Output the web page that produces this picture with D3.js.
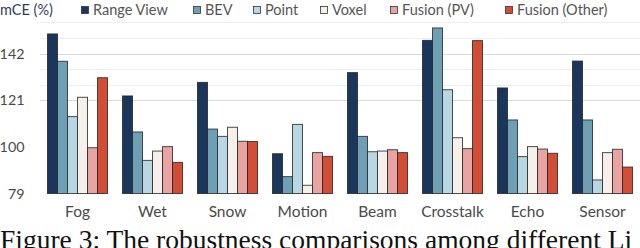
<!DOCTYPE html>
<html>
<head>
<meta charset="utf-8">
<script src="https://cdn.jsdelivr.net/npm/d3@7"></script>
<style>
  html, body { margin: 0; padding: 0; background: #fff; }
  svg { display: block; }
</style>
</head>
<body>
<svg id="chart" width="640" height="248"></svg>
<script>
// ---- data ----
const categories = ["Fog", "Wet", "Snow", "Motion", "Beam", "Crosstalk", "Echo", "Sensor"];
const seriesNames = ["Range View", "BEV", "Point", "Voxel", "Fusion (PV)", "Fusion (Other)"];
const rangeView   = [150.8, 122.9, 129.0, 96.9, 133.4, 147.9, 126.5, 138.6];
const bev         = [138.5, 106.7, 108.0, 86.6, 104.7, 153.5, 112.1, 112.1];
const point       = [113.6,  93.9, 104.7, 110.1, 97.8, 125.7,  95.6,  85.1];
const voxel       = [122.3,  98.1, 108.8, 82.7,  98.1, 104.1, 100.1,  97.4];
const fusionPV    = [ 99.6, 100.1, 102.5, 97.4,  98.7,  99.2,  99.0,  98.9];
const fusionOther = [131.1,  93.0, 102.4, 95.7,  97.4, 147.8,  97.1,  90.9];
const yTicks = [79, 100, 121, 142];
const gridValues = [121, 128, 135, 142, 149, 156];
const yAxisTitle = "mCE (%)";
const caption = "Figure 3: The robustness comparisons among different Li";

const seriesValues = [rangeView, bev, point, voxel, fusionPV, fusionOther];
const colors = ["#1b365d", "#6e9fb5", "#b8d7e3", "#f6efea", "#e8a3a3", "#d24d36"];

// ---- layout ----
const svg = d3.select("#chart");
const baseY = 193.5;
const x = d3.scaleBand().domain(categories).range([40, 640]).paddingInner(0.2).paddingOuter(0.1);
const xs = d3.scaleBand().domain(seriesNames).range([0, x.bandwidth()]).padding(0);
const y = d3.scaleLinear().domain([79, 156]).range([baseY, 22.4]);

const font = "Lato, 'Open Sans', sans-serif";

// gridlines
svg.append("g").selectAll("line").data(gridValues).join("line")
  .attr("x1", 40).attr("x2", 640)
  .attr("y1", d => Math.round(y(d)) + 0.5).attr("y2", d => Math.round(y(d)) + 0.5)
  .attr("stroke", d => (d === 121 || d === 142) ? "#d9d9d9" : "#eeeeee")
  .attr("stroke-width", 1.2);

// bars
const rows = [];
categories.forEach((c, i) => {
  seriesNames.forEach((s, j) => rows.push({ c, s, j, v: seriesValues[j][i] }));
});
svg.append("g").selectAll("rect").data(rows).join("rect")
  .attr("x", d => x(d.c) + xs(d.s))
  .attr("y", d => y(d.v))
  .attr("width", xs.bandwidth())
  .attr("height", d => baseY - y(d.v))
  .attr("fill", d => colors[d.j])
  .attr("stroke", "#222")
  .attr("stroke-opacity", 0.8)
  .attr("stroke-width", 1);

// y tick labels
svg.append("g").selectAll("text").data(yTicks).join("text")
  .attr("x", 24.5).attr("y", d => y(d) + 5)
  .attr("text-anchor", "end")
  .attr("font-family", font).attr("font-size", 14.3).attr("fill", "#4a4a4a")
  .text(d => d);

// category labels
svg.append("g").selectAll("text").data(categories).join("text")
  .attr("x", d => x(d) + x.bandwidth() / 2).attr("y", 217)
  .attr("text-anchor", "middle")
  .attr("font-family", font).attr("font-size", 15.5).attr("fill", "#4a4a4a")
  .text(d => d);

// axis title
svg.append("text").attr("x", 0).attr("y", 15)
  .attr("font-family", font).attr("font-size", 14.5).attr("fill", "#2d3f5c")
  .text(yAxisTitle);

// legend
const legendX = [81, 193, 253, 320, 390, 505];
const lg = svg.append("g").selectAll("g").data(seriesNames).join("g")
  .attr("transform", (d, i) => `translate(${legendX[i]},0)`);
lg.append("rect").attr("x", 0.5).attr("y", 6.5).attr("width", 7).attr("height", 7)
  .attr("fill", (d, i) => colors[i]).attr("stroke", "#333").attr("stroke-width", 0.8);
lg.append("text").attr("x", 12).attr("y", 15)
  .attr("font-family", font).attr("font-size", 14.5).attr("fill", "#555")
  .text(d => d);

// caption (cut off by the frame, as in the figure)
svg.append("text").attr("x", 0).attr("y", 249)
  .attr("font-family", "'Liberation Serif', 'DejaVu Serif', serif").attr("font-size", 27.5).attr("fill", "#111")
  .text(caption);
</script>
</body>
</html>
